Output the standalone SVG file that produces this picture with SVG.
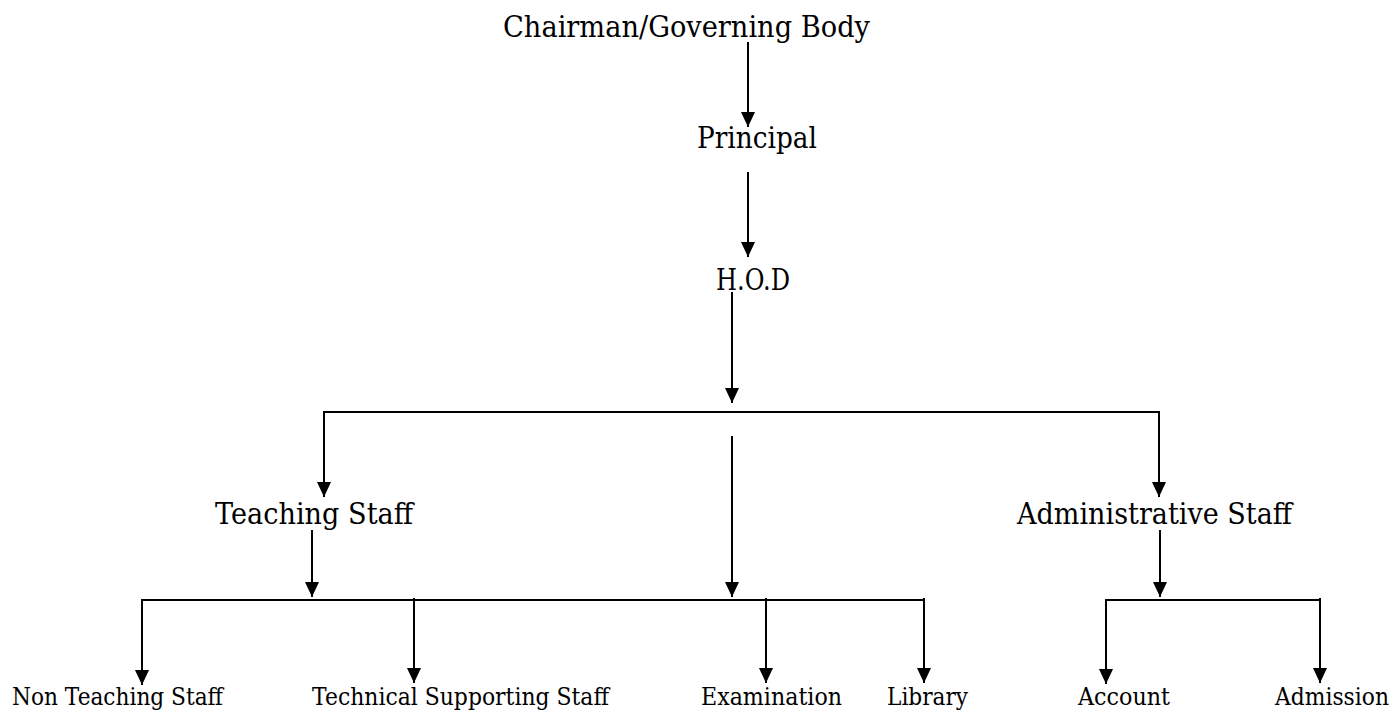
<svg xmlns="http://www.w3.org/2000/svg" width="1398" height="713" viewBox="0 0 1398 713">
<style>
.t{font-family:"DejaVu Serif","Liberation Serif",serif;fill:#000;}
.big{font-size:29px;}
.small{font-size:24px;}
.c{stroke:#000;stroke-width:2;fill:none;}
</style>
<defs>
<marker id="ah" markerUnits="userSpaceOnUse" markerWidth="16" markerHeight="16" viewBox="0 -8 16 16" refX="15" refY="0" orient="auto">
<path d="M0,-7 L15,0 L0,7 z" fill="#000"/>
</marker>
</defs>
<rect width="1398" height="713" fill="#fff"/>
<g id="connectors">
<line class="c" x1="748" y1="42" x2="748" y2="127" marker-end="url(#ah)"/>
<line class="c" x1="748" y1="172" x2="748" y2="257" marker-end="url(#ah)"/>
<line class="c" x1="732" y1="292" x2="732" y2="403" marker-end="url(#ah)"/>
<polyline class="c" points="324,497 324,412 1159,412 1159,497"/>
<line class="c" x1="324" y1="412" x2="324" y2="497" marker-end="url(#ah)"/>
<line class="c" x1="1159" y1="412" x2="1159" y2="497" marker-end="url(#ah)"/>
<line class="c" x1="732" y1="436" x2="732" y2="597" marker-end="url(#ah)"/>
<line class="c" x1="312" y1="530" x2="312" y2="597" marker-end="url(#ah)"/>
<line class="c" x1="1160" y1="530" x2="1160" y2="597" marker-end="url(#ah)"/>
<line class="c" x1="141" y1="600" x2="924" y2="600"/>
<line class="c" x1="142" y1="600" x2="142" y2="685" marker-end="url(#ah)"/>
<line class="c" x1="414" y1="598" x2="414" y2="683" marker-end="url(#ah)"/>
<line class="c" x1="766" y1="598" x2="766" y2="683" marker-end="url(#ah)"/>
<line class="c" x1="924" y1="598" x2="924" y2="683" marker-end="url(#ah)"/>
<line class="c" x1="1105" y1="600" x2="1320" y2="600"/>
<line class="c" x1="1106" y1="600" x2="1106" y2="684" marker-end="url(#ah)"/>
<line class="c" x1="1320" y1="598" x2="1320" y2="683" marker-end="url(#ah)"/>
</g>
<g id="chairman"><text class="t big" x="503" y="37" textLength="367" lengthAdjust="spacingAndGlyphs">Chairman/Governing Body</text></g>
<g id="principal"><text class="t big" x="697" y="148" textLength="120" lengthAdjust="spacingAndGlyphs">Principal</text></g>
<g id="hod"><text class="t big" x="716" y="290" textLength="74" lengthAdjust="spacingAndGlyphs">H.O.D</text></g>
<g id="teaching-staff"><text class="t big" x="215" y="524" textLength="198" lengthAdjust="spacingAndGlyphs">Teaching Staff</text></g>
<g id="administrative-staff"><text class="t big" x="1017" y="524" textLength="275" lengthAdjust="spacingAndGlyphs">Administrative Staff</text></g>
<g id="non-teaching-staff"><text class="t small" x="12" y="705" textLength="211" lengthAdjust="spacingAndGlyphs">Non Teaching Staff</text></g>
<g id="technical-supporting-staff"><text class="t small" x="312" y="705" textLength="297" lengthAdjust="spacingAndGlyphs">Technical Supporting Staff</text></g>
<g id="examination"><text class="t small" x="701" y="705" textLength="141" lengthAdjust="spacingAndGlyphs">Examination</text></g>
<g id="library"><text class="t small" x="887" y="705" textLength="81" lengthAdjust="spacingAndGlyphs">Library</text></g>
<g id="account"><text class="t small" x="1078" y="705" textLength="92" lengthAdjust="spacingAndGlyphs">Account</text></g>
<g id="admission"><text class="t small" x="1275" y="705" textLength="114" lengthAdjust="spacingAndGlyphs">Admission</text></g>
</svg>
